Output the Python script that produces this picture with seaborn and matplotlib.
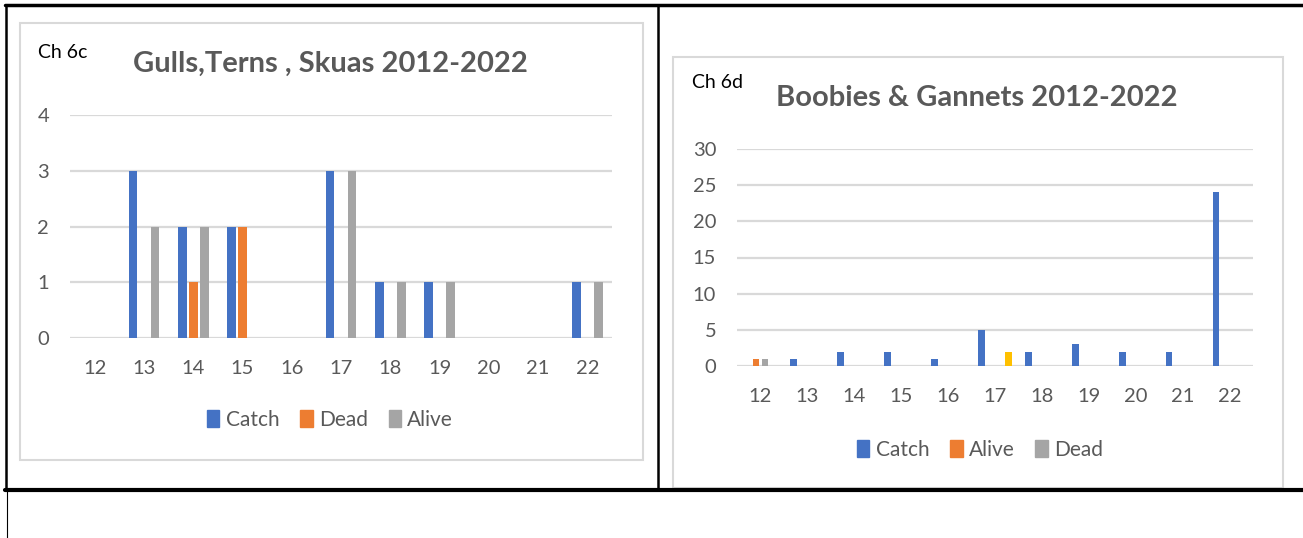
import pandas as pd
import seaborn as sns
import matplotlib.pyplot as plt
from matplotlib.patches import Patch, Rectangle
from matplotlib.lines import Line2D

# Data
years = ['12', '13', '14', '15', '16', '17', '18', '19', '20', '21', '22']

# Ch 6c  Gulls, Terns, Skuas
catch_6c = [0, 3, 2, 2, 0, 3, 1, 1, 0, 0, 1]
dead_6c = [0, 0, 1, 2, 0, 0, 0, 0, 0, 0, 0]
alive_6c = [0, 2, 2, 0, 0, 3, 1, 1, 0, 0, 1]
series_6c = ['Catch', 'Dead', 'Alive']

# Ch 6d  Boobies & Gannets (4th series is not in the legend)
catch_6d = [0, 1, 2, 2, 1, 5, 2, 3, 2, 2, 24]
alive_6d = [1, 0, 0, 0, 0, 0, 0, 0, 0, 0, 0]
dead_6d = [1, 0, 0, 0, 0, 0, 0, 0, 0, 0, 0]
other_6d = [0, 0, 0, 0, 0, 2, 0, 0, 0, 0, 0]
series_6d = ['Catch', 'Alive', 'Dead', 'Other']

BLUE, ORANGE, GRAY, YELLOW = '#4472C4', '#ED7D31', '#A5A5A5', '#FFC000'
TXT = '#595959'
GRID = '#D9D9D9'

sns.set_style('white')
plt.rcParams['font.family'] = ['Lato', 'DejaVu Sans']

df_c = pd.DataFrame({'year': years, 'Catch': catch_6c, 'Dead': dead_6c, 'Alive': alive_6c})
df_c = df_c.melt(id_vars='year', var_name='series', value_name='count')
df_d = pd.DataFrame({'year': years, 'Catch': catch_6d, 'Alive': alive_6d,
                     'Dead': dead_6d, 'Other': other_6d})
df_d = df_d.melt(id_vars='year', var_name='series', value_name='count')

W, H = 1303, 538
fig = plt.figure(figsize=(W / 100, H / 100), dpi=100)


def px(x0, y0, x1, y1):
    return [x0 / W, 1 - y1 / H, (x1 - x0) / W, (y1 - y0) / H]


# chart frames
for (x0, y0, x1, y1) in [(20, 23, 643, 460), (673, 57, 1283, 488)]:
    fig.add_artist(Rectangle((x0 / W, 1 - y1 / H), (x1 - x0) / W, (y1 - y0) / H,
                             transform=fig.transFigure, fill=False,
                             edgecolor=GRID, linewidth=1.5))

# table lines
def hline(y, x0, x1, lw):
    fig.add_artist(Line2D([x0 / W, x1 / W], [1 - y / H, 1 - y / H],
                          transform=fig.transFigure, color='black', linewidth=lw))


def vline(x, y0, y1, lw):
    fig.add_artist(Line2D([x / W, x / W], [1 - y0 / H, 1 - y1 / H],
                          transform=fig.transFigure, color='black', linewidth=lw))


hline(5, 5, W, 2.5)
hline(490, 5, W, 3)
vline(6, 5, 490, 1.8)
vline(7, 490, H, 0.8)
vline(658, 5, 490, 1.8)


def style(ax, ymax, step):
    ax.set_ylim(0, ymax)
    ax.set_xlim(-0.5, len(years) - 0.5)
    ax.set_yticks(range(0, ymax + 1, step))
    ax.yaxis.grid(True, color=GRID, linewidth=1.6)
    ax.set_axisbelow(True)
    for s in ax.spines.values():
        s.set_visible(False)
    ax.set_xlabel('')
    ax.set_ylabel('')
    ax.tick_params(axis='y', length=0, pad=15, labelsize=14.5, labelcolor=TXT)
    ax.tick_params(axis='x', length=0, pad=16, labelsize=14.5, labelcolor=TXT)
    ax.set_facecolor('none')


# Ch 6c
ax1 = fig.add_axes(px(70, 115, 612, 338))
sns.barplot(data=df_c, x='year', y='count', hue='series', hue_order=series_6c,
            palette=[BLUE, ORANGE, GRAY], saturation=1, width=0.67, gap=0.2,
            linewidth=0, legend=False, ax=ax1)
style(ax1, 4, 1)

# Ch 6d
ax2 = fig.add_axes(px(737, 149, 1253, 366))
sns.barplot(data=df_d, x='year', y='count', hue='series', hue_order=series_6d,
            palette=[BLUE, ORANGE, GRAY, YELLOW], saturation=1, width=0.77, gap=0.25,
            linewidth=0, legend=False, ax=ax2)
style(ax2, 30, 5)

# titles
fig.text(330 / W, 1 - 64 / H, 'Gulls,Terns , Skuas 2012-2022', ha='center', va='center',
         fontsize=21, fontweight='bold', color=TXT)
fig.text(38 / W, 1 - 52 / H, 'Ch 6c', ha='left', va='center', fontsize=14, color='black')
fig.text(977 / W, 1 - 98 / H, 'Boobies & Gannets 2012-2022', ha='center', va='center',
         fontsize=21, fontweight='bold', color=TXT)
fig.text(692 / W, 1 - 83 / H, 'Ch 6d', ha='left', va='center', fontsize=14, color='black')

# legends
h1 = [Patch(color=c, label=l) for c, l in zip([BLUE, ORANGE, GRAY], series_6c)]
fig.legend(handles=h1, loc='center', bbox_to_anchor=(330 / W, 1 - 420 / H), ncol=3,
           frameon=False, fontsize=15, labelcolor=TXT, handlelength=0.6, handleheight=0.9,
           handletextpad=0.3, columnspacing=1.0)
h2 = [Patch(color=c, label=l) for c, l in zip([BLUE, ORANGE, GRAY], series_6d[:3])]
fig.legend(handles=h2, loc='center', bbox_to_anchor=(980 / W, 1 - 450 / H), ncol=3,
           frameon=False, fontsize=15, labelcolor=TXT, handlelength=0.6, handleheight=0.9,
           handletextpad=0.3, columnspacing=1.0)

fig.savefig('out.png', dpi=100)
